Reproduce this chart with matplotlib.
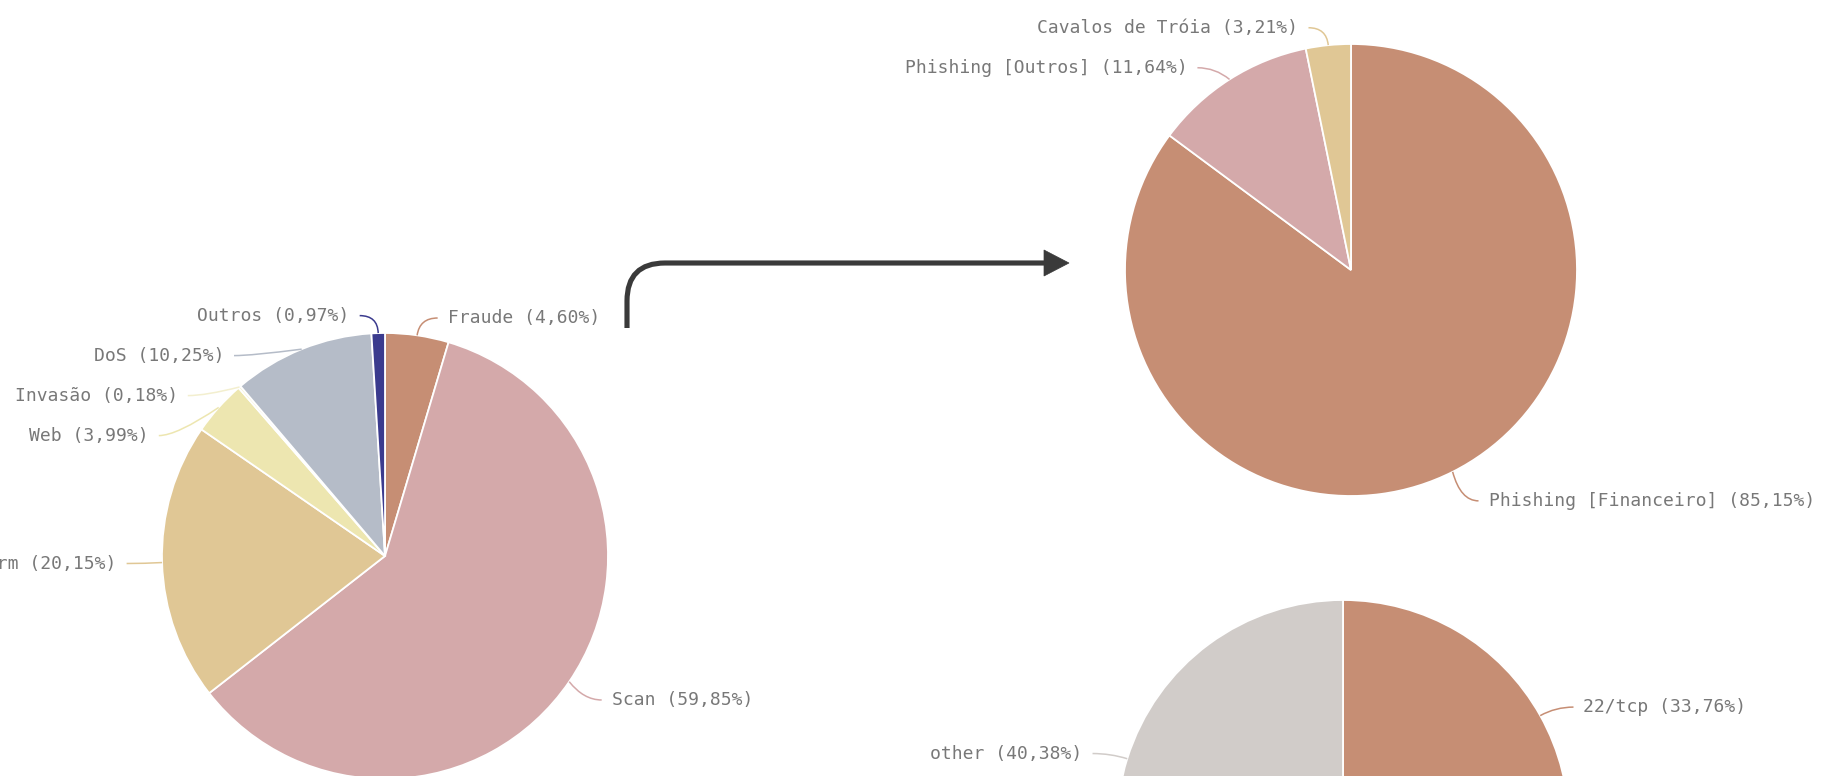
import numpy as np
import matplotlib
matplotlib.use('Agg')
import matplotlib.pyplot as plt
from matplotlib.path import Path
from matplotlib.patches import PathPatch, Polygon

W, H = 1831, 776

# ---------------- data ----------------
inc_labels = ['Fraude', 'Scan', 'Worm', 'Web', 'Invasão', 'DoS', 'Outros']
inc_values = [4.60, 59.85, 20.15, 3.99, 0.18, 10.25, 0.97]
inc_colors = ['#C68E74', '#D4A9AA', '#E0C795', '#EDE6B0', '#F3EFCF', '#B5BCC8', '#3B3B8E']

fraud_labels = ['Phishing [Financeiro]', 'Phishing [Outros]', 'Cavalos de Tróia']
fraud_values = [85.15, 11.64, 3.21]
fraud_colors = ['#C68E74', '#D4A9AA', '#E0C795']

port_labels = ['22/tcp', 'demais portas', 'other']
port_values = [33.76, 25.86, 40.38]
port_colors = ['#C68E74', '#D4A9AA', '#D1CCC9']

# ---------------- style / layout ----------------
LEN1, LEN2, GAP, SPACING, LOW_DROP = 17.5, 18.0, 10.0, 40.0, 15.0
TEXT_COLOR = '#787878'
FONT = dict(family='DejaVu Sans Mono', size=13, color=TEXT_COLOR)

fig = plt.figure(figsize=(W / 100, H / 100), dpi=100)
ax = fig.add_axes([0, 0, 1, 1])


def fmt(v):
    return f"{v:.2f}".replace('.', ',')


def draw_pie(labels, values, colors, cx, cy, r):
    """cx, cy in pixel coordinates (y downward)."""
    ax.pie(values, colors=colors, startangle=90, counterclock=False,
           center=(cx, H - cy), radius=r,
           wedgeprops=dict(edgecolor='white', linewidth=1.3))
    total = float(sum(values))
    cum = np.cumsum([0] + list(values))[:-1]
    R1 = r + LEN1
    items = []
    for lab, v, c0, col in zip(labels, values, cum, colors):
        th = 2 * np.pi * (c0 + v / 2) / total
        ex, ey = cx + r * np.sin(th), cy - r * np.cos(th)
        nx = cx + R1 * np.sin(th)
        ny = cy - R1 * np.cos(th) + LOW_DROP * max(0.0, -np.cos(th))
        side = 1 if np.sin(th) >= 0 else -1
        items.append(dict(label=f"{lab} ({fmt(v)}%)", ex=ex, ey=ey, x=nx, y=ny,
                          side=side, color=col))
    for side in (1, -1):
        group = sorted([it for it in items if it['side'] == side], key=lambda d: d['y'])
        shifted = False
        for i in range(1, len(group)):
            if group[i]['y'] - group[i - 1]['y'] < SPACING:
                group[i]['y'] = group[i - 1]['y'] + SPACING
                shifted = True
        if shifted:
            for it in group:
                dy = abs(it['y'] - cy)
                dx = np.sqrt(max(R1 ** 2 - dy ** 2, 0.0))
                it['x'] = cx + side * dx
    for it in items:
        if it['y'] > H - 5:
            continue
        s = it['side']
        x1, y1 = it['x'], it['y']
        x2 = x1 + s * LEN2
        verts = [(it['ex'], H - it['ey']), (x1, H - y1), (x2, H - y1)]
        path = Path(verts, [Path.MOVETO, Path.CURVE3, Path.CURVE3])
        ax.add_patch(PathPatch(path, fill=False, edgecolor=it['color'], lw=1.1))
        ax.text(x2 + s * GAP, H - y1, it['label'], ha='left' if s > 0 else 'right',
                va='center', **FONT)


draw_pie(inc_labels, inc_values, inc_colors, 385, 556, 223)
draw_pie(fraud_labels, fraud_values, fraud_colors, 1351, 270, 226)
draw_pie(port_labels, port_values, port_colors, 1343, 826, 226)

# ---------------- connector arrow ----------------
ARROW_COLOR = '#3a3a3a'
ax0x, ax0y, ay_top, rc, x_end, tip = 627, 328, 263, 38, 1046, 1069
verts = [(ax0x, H - ax0y), (ax0x, H - (ay_top + rc)), (ax0x, H - ay_top),
         (ax0x + rc, H - ay_top), (x_end, H - ay_top)]
codes = [Path.MOVETO, Path.LINETO, Path.CURVE3, Path.CURVE3, Path.LINETO]
ax.add_patch(PathPatch(Path(verts, codes), fill=False, edgecolor=ARROW_COLOR,
                       lw=3.7, capstyle='butt', joinstyle='round'))
ax.add_patch(Polygon([(x_end - 2, H - (ay_top - 13)), (tip, H - ay_top),
                      (x_end - 2, H - (ay_top + 13))], closed=True,
                     facecolor=ARROW_COLOR, edgecolor=ARROW_COLOR, lw=0.5))

ax.set_xlim(0, W)
ax.set_ylim(0, H)
ax.set_aspect('equal')
ax.axis('off')
fig.savefig('out.png', dpi=100, facecolor='white')
